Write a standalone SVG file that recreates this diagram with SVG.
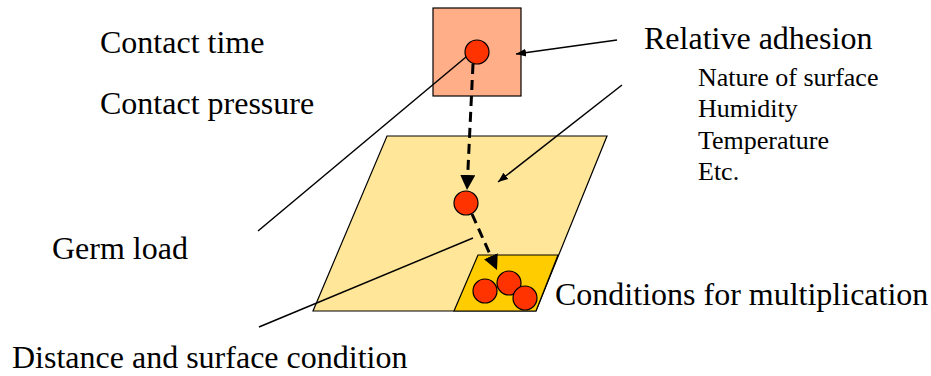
<svg xmlns="http://www.w3.org/2000/svg" width="931" height="376" viewBox="0 0 931 376">
<style>
.big{font-size:32px}
.small{font-size:26px}
.ln{stroke:#000;stroke-width:1.5;fill:none}
.dash{stroke:#000;stroke-width:3;stroke-dasharray:10 6;fill:none}
.germ{fill:#FF3300;stroke:#000;stroke-width:1.2}
</style>
<defs>
<marker id="ah" viewBox="0 0 10 10" refX="10" refY="5" markerWidth="10" markerHeight="10" markerUnits="userSpaceOnUse" orient="auto">
<path d="M0,1 L10,5 L0,9 Z" fill="#000"/>
</marker>
<marker id="ahb" viewBox="0 0 10 10" refX="10" refY="5" markerWidth="5" markerHeight="5" orient="auto">
<path d="M0,0 L10,5 L0,10 Z" fill="#000"/>
</marker>
</defs>
<g id="surface">
<polygon points="387,136 607,136 536,311 313,311" fill="#FFE699" stroke="#000" stroke-width="1.2"/>
</g>
<g id="multiplication-zone">
<polygon points="478,255 558,255 536,311 454,311" fill="#FFCC00" stroke="#000" stroke-width="1.2"/>
</g>
<g id="contact-source">
<rect x="433" y="8" width="88" height="88" fill="#FFAE88" stroke="#000" stroke-width="1.2"/>
</g>
<g id="connectors">
<line class="ln" x1="258" y1="231" x2="472" y2="52"/>
<line class="ln" x1="259" y1="327" x2="473" y2="238"/>
<line class="ln" x1="617" y1="40" x2="516" y2="54" marker-end="url(#ah)"/>
<line class="ln" x1="622" y1="85" x2="498" y2="182" marker-end="url(#ah)"/>
<line class="dash" x1="473" y1="64" x2="467" y2="190" marker-end="url(#ahb)"/>
<line class="dash" x1="472" y1="214" x2="497" y2="270" marker-end="url(#ahb)"/>
</g>
<g id="germ-top"><circle class="germ" cx="477" cy="52" r="12"/></g>
<g id="germ-middle"><circle class="germ" cx="466" cy="203" r="12"/></g>
<g id="germ-cluster">
<circle class="germ" cx="485" cy="291" r="12"/>
<circle class="germ" cx="509" cy="283" r="12"/>
<circle class="germ" cx="525" cy="298" r="12"/>
</g>
<g id="labels" font-family="Liberation Serif, serif" fill="#000">
<text class="big" x="100" y="53">Contact time</text>
<text class="big" x="100" y="114">Contact pressure</text>
<text class="big" x="644" y="49">Relative adhesion</text>
<text class="small" x="698" y="86">Nature of surface</text>
<text class="small" x="698" y="117">Humidity</text>
<text class="small" x="698" y="149">Temperature</text>
<text class="small" x="698" y="180">Etc.</text>
<text class="big" x="52" y="259">Germ load</text>
<text class="big" x="555" y="305">Conditions for multiplication</text>
<text class="big" x="12" y="368">Distance and surface condition</text>
</g>
</svg>
